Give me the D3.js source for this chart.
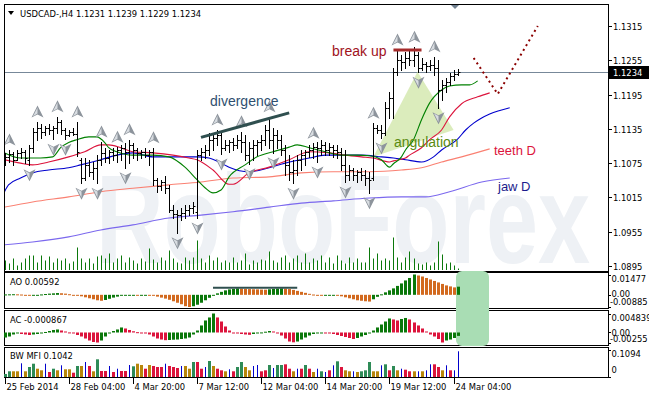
<!DOCTYPE html>
<html><head><meta charset="utf-8">
<script src="https://cdn.jsdelivr.net/npm/d3@7"></script>
<style>html,body{margin:0;padding:0;background:#fff;}svg{display:block;}</style>
</head><body>
<svg id="c" width="649" height="397"></svg>
<script>
// ---------- DATA ----------
const open=[1.1081,1.1086,1.1091,1.1081,1.1093,1.1095,1.1081,1.1102,1.1130,1.1137,
1.1130,1.1137,1.1133,1.1137,1.1147,1.1133,1.1124,1.1130,1.1126,1.1081,
1.1049,1.1072,1.1060,1.1067,1.1081,1.1093,1.1084,1.1095,1.1089,1.1098,
1.1102,1.1095,1.1107,1.1098,1.1093,1.1095,1.1089,1.1095,1.1046,1.1035,
1.1042,1.1032,1.0993,1.0986,1.0984,1.0988,1.0993,1.0997,1.0990,1.1089,
1.1095,1.1098,1.1116,1.1119,1.1124,1.1102,1.1107,1.1112,1.1107,1.1116,
1.1112,1.1089,1.1102,1.1107,1.1112,1.1116,1.1133,1.1116,1.1124,1.1116,
1.1098,1.1072,1.1060,1.1063,1.1081,1.1089,1.1095,1.1098,1.1103,1.1102,
1.1107,1.1098,1.1103,1.1098,1.1095,1.1072,1.1054,1.1063,1.1054,1.1060,
1.1054,1.1049,1.1049,1.1137,1.1133,1.1128,1.1172,1.1189,1.1234,1.1256,
1.1252,1.1259,1.1256,1.1264,1.1242,1.1249,1.1245,1.1247,1.1242,1.1203,
1.1212,1.1217,1.1228,1.1231];
const high=[1.1093,1.1098,1.1095,1.1098,1.1102,1.1098,1.1107,1.1137,1.1147,1.1144,
1.1140,1.1144,1.1140,1.1156,1.1151,1.1137,1.1133,1.1137,1.1147,1.1084,
1.1084,1.1081,1.1077,1.1089,1.1112,1.1102,1.1098,1.1102,1.1103,1.1107,
1.1110,1.1116,1.1110,1.1102,1.1098,1.1102,1.1098,1.1102,1.1049,1.1046,
1.1053,1.1037,1.1002,1.0993,1.0997,1.1002,1.1002,1.1007,1.1098,1.1102,
1.1107,1.1128,1.1124,1.1133,1.1128,1.1116,1.1116,1.1119,1.1124,1.1130,
1.1124,1.1112,1.1116,1.1116,1.1124,1.1142,1.1156,1.1137,1.1133,1.1124,
1.1107,1.1089,1.1081,1.1089,1.1098,1.1098,1.1107,1.1110,1.1112,1.1116,
1.1112,1.1110,1.1107,1.1107,1.1102,1.1098,1.1072,1.1067,1.1063,1.1067,
1.1063,1.1060,1.1145,1.1142,1.1142,1.1182,1.1200,1.1242,1.1273,1.1264,
1.1270,1.1273,1.1278,1.1270,1.1259,1.1252,1.1256,1.1261,1.1256,1.1221,
1.1224,1.1233,1.1238,1.1239];
const low=[1.1072,1.1077,1.1072,1.1081,1.1084,1.1075,1.1072,1.1095,1.1116,1.1119,
1.1124,1.1126,1.1117,1.1128,1.1126,1.1117,1.1123,1.1124,1.1088,1.1040,
1.1046,1.1053,1.1047,1.1040,1.1072,1.1077,1.1075,1.1081,1.1077,1.1081,
1.1067,1.1075,1.1084,1.1081,1.1084,1.1086,1.1072,1.1037,1.1025,1.1028,
1.1023,1.0990,1.0979,1.0953,1.0976,1.0979,1.0984,1.0988,1.0979,1.1081,
1.1084,1.1089,1.1098,1.1107,1.1091,1.1098,1.1095,1.1098,1.1102,1.1095,
1.1081,1.1074,1.1081,1.1089,1.1098,1.1107,1.1102,1.1093,1.1102,1.1089,
1.1054,1.1046,1.1040,1.1054,1.1063,1.1072,1.1086,1.1084,1.1077,1.1089,
1.1089,1.1089,1.1086,1.1084,1.1063,1.1042,1.1046,1.1046,1.1042,1.1046,
1.1037,1.1023,1.1046,1.1128,1.1119,1.1124,1.1154,1.1154,1.1229,1.1238,
1.1242,1.1247,1.1245,1.1234,1.1238,1.1234,1.1238,1.1229,1.1172,1.1186,
1.1200,1.1212,1.1221,1.1229];
const close=[1.1086,1.1091,1.1081,1.1093,1.1095,1.1084,1.1102,1.1130,1.1137,1.1130,
1.1137,1.1133,1.1137,1.1147,1.1133,1.1124,1.1130,1.1126,1.1095,1.1049,
1.1072,1.1060,1.1067,1.1081,1.1093,1.1084,1.1095,1.1089,1.1098,1.1102,
1.1095,1.1107,1.1098,1.1093,1.1095,1.1089,1.1095,1.1046,1.1035,1.1042,
1.1032,1.0993,1.0986,1.0984,1.0988,1.0993,1.0997,1.1000,1.1089,1.1095,
1.1098,1.1116,1.1119,1.1124,1.1102,1.1107,1.1112,1.1107,1.1116,1.1112,
1.1089,1.1102,1.1107,1.1112,1.1116,1.1133,1.1116,1.1124,1.1116,1.1098,
1.1072,1.1060,1.1063,1.1081,1.1089,1.1095,1.1098,1.1103,1.1102,1.1107,
1.1098,1.1103,1.1098,1.1095,1.1072,1.1054,1.1063,1.1054,1.1060,1.1054,
1.1049,1.1046,1.1137,1.1133,1.1128,1.1172,1.1189,1.1234,1.1256,1.1252,
1.1259,1.1256,1.1264,1.1242,1.1249,1.1245,1.1247,1.1242,1.1203,1.1212,
1.1217,1.1228,1.1231,1.1234];
const volume=[2000,1400,2400,1000,1600,2400,3000,3000,1600,3000,
2000,2800,1600,2400,2000,2400,1400,1800,4600,2400,
1600,2400,1400,2800,3000,2400,3400,1600,2400,3000,
1600,2600,2000,1400,2400,1800,4400,2200,1600,2600,
2000,4000,2400,1600,1400,2600,2000,2600,6000,2400,
1600,3000,2000,2600,1600,2000,1600,2600,1600,2000,
3400,1200,2000,1600,2200,2000,3800,2000,1600,2600,
3000,1600,2400,3000,1600,3400,1600,2400,2000,3000,
1600,2600,1400,3000,2000,1400,2600,1600,2400,1600,
1600,4600,2400,3400,2000,2400,2000,6600,2600,1600,
2600,3800,2400,1400,1200,1600,1000,1600,5800,3200,
1400,1600,1000,400];
const ao=[0.00029,0.00036,0.00043,0.00036,0.00022,-0.00022,-0.00036,-0.00029,-0.00014,0.00029,
0.00058,0.00086,0.00108,0.0013,0.00115,0.00086,0.00043,-0.00022,-0.00058,-0.00108,
-0.0018,-0.00252,-0.00324,-0.00396,-0.00432,-0.00374,-0.00288,-0.00202,-0.0013,-0.00072,
-0.00043,-0.00022,-0.00014,-0.00036,-0.00029,-0.00014,-0.00036,-0.00072,-0.0013,-0.00202,
-0.00274,-0.0036,-0.00468,-0.00576,-0.00684,-0.00828,-0.00885,-0.00828,-0.0072,-0.00576,
-0.00396,-0.00216,-0.00072,0.00108,0.00216,0.00324,0.00396,0.00432,0.00468,0.00446,
0.00432,0.00418,0.00403,0.00396,0.00382,0.00374,0.00403,0.00432,0.00454,0.00468,
0.00446,0.00418,0.0036,0.00288,0.00216,0.00144,0.00072,0.00022,-0.00036,-0.00072,
-0.00065,-0.00058,-0.00043,-0.00058,-0.00108,-0.0018,-0.00252,-0.00324,-0.00396,-0.00432,
-0.00468,-0.0049,-0.00324,-0.00144,0.00036,0.0018,0.00324,0.00468,0.00648,0.00828,
0.01044,0.01224,0.01477,0.01404,0.01332,0.01224,0.01116,0.01008,0.009,0.00792,
0.00684,0.00612,0.0054,0.00592];
const ac=[-0.00128,-0.00102,-0.00051,-0.000255,-0.00038,-0.00051,-0.00064,-0.00051,-0.00038,-0.000255,
0.00013,0.00038,0.00064,0.00077,0.00051,0.000255,0.00002,-0.000255,-0.00064,-0.00102,
-0.00153,-0.00204,-0.00242,-0.00255,-0.00204,-0.00102,-0.000255,0.00038,0.00077,0.00128,
0.00102,0.00064,0.00031,0.00008,-0.00013,-0.000255,-0.00051,-0.00102,-0.00153,-0.00179,
-0.00196,-0.00191,-0.00184,-0.00179,-0.00166,-0.00153,-0.00128,-0.00051,0.00051,0.00179,
0.00306,0.00383,0.004839,0.00383,0.0028,0.00153,0.00051,-0.00013,-0.000255,-0.00038,
-0.00051,-0.00059,-0.00038,-0.0002,0.00002,0.0002,0.00038,0.000255,-0.000255,-0.00077,
-0.00153,-0.0023,-0.0025,-0.0023,-0.00179,-0.00128,-0.00077,-0.00038,-0.00013,-0.00008,
-0.00015,-0.000255,-0.00038,-0.00064,-0.00089,-0.00115,-0.0014,-0.00166,-0.0014,-0.00102,
-0.00064,-0.00013,0.00051,0.00128,0.00204,0.0028,0.00357,0.00332,0.00306,0.00344,
0.0037,0.00332,0.00255,0.00179,0.00102,0.000255,-0.00051,-0.00102,-0.00166,-0.00255,
-0.00204,-0.00179,-0.0014,-0.000867];
const mfi=[0.0122,0.0231,0.0231,0.0231,0.0555,0.0231,0.0405,0.0539,0.0336,0.0271,
0.0539,0.0203,0.0336,0.0271,0.0474,0.0312,0.0312,0.0174,0.0446,0.0446,
0.0608,0.0446,0.0231,0.0717,0.0243,0.0243,0.0446,0.0203,0.0336,0.0243,
0.0243,0.0486,0.0433,0.0539,0.0486,0.0336,0.0486,0.0446,0.0405,0.0405,
0.0539,0.0446,0.0405,0.0365,0.0446,0.0446,0.0336,0.0608,0.0608,0.0336,
0.0405,0.0648,0.0446,0.0336,0.0271,0.0231,0.0312,0.0231,0.0405,0.0608,
0.0405,0.0271,0.0446,0.0486,0.0231,0.0271,0.0486,0.0365,0.0486,0.0486,
0.0514,0.0336,0.0231,0.0336,0.0336,0.0486,0.0336,0.0203,0.0336,0.0231,
0.0203,0.0271,0.0474,0.0636,0.0405,0.0271,0.0231,0.0231,0.0203,0.0231,
0.0271,0.0608,0.0231,0.0231,0.0474,0.0514,0.0271,0.0446,0.0271,0.0336,
0.0296,0.0231,0.0231,0.0231,0.0231,0.0271,0.0514,0.0514,0.0405,0.0271,
0.0474,0.0271,0.0271,0.1042];
// G = green, B = brown (fade), S = pink (squat), F = blue (fake)
const mfiType=("GGBBFBGGBB"+"FSGBFBBSGB"+"FSBGSSFSFS"+"SFGBBSBSSS"+"FSSSFBBGSS"+
"FGBSSBFSGG"+"BBFFSSGFGG"+"SSBFSGSBFG"+"FSFGSBBFBG"+"GGBBFGSGBF"+"SSBFBFFSSB"+"FSFF").split("");
// Alligator lines [bar index, price] (shifted forward)
const lips=[[0,1.1093],[4,1.1084],[9,1.1084],[12,1.1086],[14,1.1102],[16,1.1111],[18,1.1116],[21,1.1121],[23,1.1121],[25,1.1111],[26,1.1102],[28,1.1095],[32,1.1089],[37,1.1089],[41,1.1086],[45,1.1068],[48,1.1046],[50,1.1032],[52,1.1023],[54,1.1028],[56,1.1051],[60,1.1072],[63,1.1086],[67,1.1095],[71,1.1103],[73,1.1107],[76,1.1102],[80,1.1095],[84,1.1089],[88,1.1089],[91,1.1088],[94,1.1081],[96,1.1068],[97,1.1074],[99,1.1086],[100,1.1098],[102,1.1116],[104,1.1151],[106,1.1180],[109,1.1203],[111,1.1210],[114,1.1212],[116,1.1212],[118,1.1219]];
const teeth=[[0,1.1081],[4,1.1075],[7,1.1072],[11,1.1077],[16,1.1086],[20,1.1095],[24,1.1107],[26,1.1107],[29,1.1102],[32,1.1095],[37,1.1093],[42,1.1089],[46,1.1084],[48,1.1081],[52,1.1063],[56,1.1038],[57,1.1038],[61,1.1058],[66,1.1068],[71,1.1081],[76,1.1095],[81,1.1093],[85,1.1089],[89,1.1086],[92,1.1084],[96,1.1077],[97,1.1079],[100,1.1084],[101,1.1089],[104,1.1102],[106,1.1116],[109,1.1133],[111,1.1156],[114,1.1179],[118,1.1191],[121,1.1198]];
const jaw=[[0,1.1025],[1,1.1037],[4,1.1049],[7,1.1058],[11,1.1063],[16,1.1067],[19,1.1072],[24,1.1081],[28,1.1089],[32,1.1093],[37,1.1086],[42,1.1086],[48,1.1086],[51,1.1084],[54,1.1075],[56,1.1068],[61,1.1060],[66,1.1067],[70,1.1075],[76,1.1084],[80,1.1089],[84,1.1089],[89,1.1089],[94,1.1086],[97,1.1084],[100,1.1081],[104,1.1077],[107,1.1086],[109,1.1098],[113,1.1117],[115,1.1133],[117,1.1145],[119,1.1154],[121,1.1161],[126,1.1172]];
const teethD=[[0,1.0998],[7,1.1007],[16,1.1016],[24,1.1025],[32,1.1031],[41,1.1037],[49,1.1042],[57,1.1049],[66,1.1051],[74,1.1058],[82,1.1060],[91,1.1060],[99,1.1063],[104,1.1067],[109,1.1077],[114,1.1086],[121,1.1100]];
const jawD=[[0,1.0932],[7,1.0937],[16,1.0946],[24,1.0958],[32,1.0967],[41,1.0979],[49,1.0984],[57,1.0990],[66,1.0998],[74,1.1005],[82,1.1009],[91,1.1014],[99,1.1016],[105,1.1016],[111,1.1025],[119,1.1042],[126,1.1049]];
const fractalUp=[1,8,13,18,24,28,31,37,53,59,66,77,92,98,102,107];
const fractalDown=[6,12,15,19,23,30,43,48,54,61,67,72,78,85,91,94,103,108];
// axes
const priceTicks=[1.1315,1.1255,1.1195,1.1135,1.1075,1.1015,1.0955,1.0895];
const lastPrice=1.1234;
const timeTickIdx=[0,16,32,48,64,80,96,112];
const timeLabels=["25 Feb 2014","28 Feb 04:00","4 Mar 20:00","7 Mar 12:00","12 Mar 04:00","14 Mar 20:00","19 Mar 12:00","24 Mar 04:00"];
const aoTicks=[0.01477,0,-0.00885], aoTickText=["0.01477","0.00","-0.00885"];
const acTicks=[0.004839,0,-0.00255], acTickText=["0.004839","0.00","-0.00255"];
const mfiTicks=[0.1094,0], mfiTickText=["0.1094","0"];
// annotations [bar index, value]
const divergenceLine=[[49,1.1120],[71,1.1163]];
const breakUpLine=[[97,1.1273],[104,1.1273]];
const angulationTri=[[92,1.1086],[103,1.1235],[112,1.1133]];
const forecastPath=[[117,1.1259],[123,1.1196],[133,1.1315]];
const aoDivLine=[[52,0.00516],[73,0.00516]];

// ---------- DRAW ----------
const svg=d3.select("#c");
const FONT="'DejaVu Sans', sans-serif", AR="'Liberation Sans', Arial, sans-serif";
const X0=4, X1=608;
const x=d3.scaleLinear().domain([0,112]).range([4.5,453.6]);
const y=d3.scaleLinear().domain([1.0895,1.1315]).range([266,26]);
const yv=d3.scaleLinear().domain([0,6600]).range([270.5,237.5]);
const yao=d3.scaleLinear().domain([-0.00885,0.01477]).range([307,274.5]);
const yac=d3.scaleLinear().domain([-0.00255,0.004839]).range([342.5,313.5]);
const ymf=d3.scaleLinear().domain([0,0.1094]).range([377,350]);
const bx=i=>Math.round(x(i))+0.5;
const N=close.length;

svg.append("rect").attr("width",649).attr("height",397).attr("fill","#ffffff");
const defs=svg.append("defs");
defs.append("clipPath").attr("id","cm").append("rect").attr("x",X0+1).attr("y",5).attr("width",X1-X0-1).attr("height",265);

const gm=svg.append("g").attr("clip-path","url(#cm)");
// watermark
gm.append("text").attr("x",96).attr("y",263).attr("font-family",AR).attr("font-size",126).attr("font-weight","bold")
 .attr("textLength",494).attr("lengthAdjust","spacingAndGlyphs").attr("fill","#eef1f5").text("RoboForex");

// volumes
gm.append("g").selectAll("line").data(volume).join("line")
 .attr("x1",(d,i)=>bx(i)).attr("x2",(d,i)=>bx(i)).attr("y1",yv(0)).attr("y2",d=>yv(d))
 .attr("stroke","#0b780b").attr("stroke-width",1);

// price line
gm.append("line").attr("x1",X0).attr("x2",X1).attr("y1",Math.round(y(lastPrice))+0.5).attr("y2",Math.round(y(lastPrice))+0.5)
 .attr("stroke","#778899").attr("stroke-width",1);

// angulation triangle
gm.append("path").attr("d",d3.line().x(d=>x(d[0])).y(d=>y(d[1]))(angulationTri)+"Z").attr("fill","#cfe6a6").attr("opacity",0.75);

const ln=d3.line().x(d=>x(d[0])).y(d=>y(d[1])).curve(d3.curveMonotoneX);
[[jawD,"#7b68ee"],[teethD,"#fa8072"],[jaw,"#0000cd"],[teeth,"#dc143c"],[lips,"#008000"]].forEach(([d,c])=>{
 gm.append("path").attr("d",ln(d)).attr("fill","none").attr("stroke",c).attr("stroke-width",1.1);
});

// bars
const rb=v=>Math.round(y(v))+0.5;
const gb=gm.append("g").attr("stroke","#000").attr("stroke-width",1).attr("fill","none");
d3.range(N).forEach(i=>{
 const cx=bx(i);
 gb.append("path").attr("d",`M${cx},${Math.round(y(high[i]))}V${Math.round(y(low[i]))+1}M${cx-2},${rb(open[i])}H${cx}M${cx},${rb(close[i])}H${cx+2}`);
});

// fractals
function arrow(g,cx,cy,up){
 const s=up?1:-1;
 const a=g.append("g").attr("transform",`translate(${cx},${cy}) scale(1,${s})`);
 a.append("path").attr("d","M0,-6.5L6,5.5L0,2.5L-6,5.5Z").attr("fill","#8d949c");
 a.append("path").attr("d","M0,-4.5L-4.5,4.2L0,1.6Z").attr("fill","#d9dde2");
}
const gf=gm.append("g");
fractalUp.forEach(i=>arrow(gf,bx(i),y(high[i])-10,true));
fractalDown.forEach(i=>arrow(gf,bx(i),y(low[i])+10,false));

// divergence & break up & forecast
gm.append("path").attr("d",d3.line().x(d=>x(d[0])).y(d=>y(d[1]))(divergenceLine)).attr("stroke","#2f4f4f").attr("stroke-width",3);
gm.append("path").attr("d",d3.line().x(d=>x(d[0])).y(d=>y(d[1]))(breakUpLine)).attr("stroke","#a52a2a").attr("stroke-width",3);
gm.append("path").attr("d",d3.line().x(d=>x(d[0])).y(d=>y(d[1]))(forecastPath)).attr("fill","none").attr("stroke","#8b0000").attr("stroke-width",2).attr("stroke-dasharray","2,3.5");

// annotation texts
const tx=(t,xx,yy,c,fs)=>svg.append("text").attr("x",xx).attr("y",yy).attr("font-family",AR).attr("font-size",fs).attr("fill",c).text(t);
tx("divergence",210,106,"#2f4f6f",14);
tx("break up",332,56,"#a0121c",14);
tx("angulation",394,147,"#5a8a10",14);
tx("teeth D",494,155,"#dc143c",13);
tx("jaw D",498,191,"#1c1c8c",13);

// shift marker & title
svg.append("path").attr("d","M450,4L460,4L455,9Z").attr("fill","#708090");
svg.append("path").attr("d","M8,11L14,11L11,15Z").attr("fill","#000");
svg.append("text").attr("x",20).attr("y",16.5).attr("font-family",FONT).attr("font-size",8.4).attr("fill","#000")
 .text("USDCAD-,H4  1.1231 1.1239 1.1229 1.1234");

// panel frames
const fr=svg.append("g").attr("stroke","#000").attr("stroke-width",1).attr("fill","none");
[[4.5,271.5],[272.5,308.5],[310.5,345.5],[347.5,377.5]].forEach(([t,b])=>{
 fr.append("rect").attr("x",X0+0.5).attr("y",t).attr("width",X1-X0).attr("height",b-t);
});

// main axis
const ga=svg.append("g").attr("font-family",FONT).attr("font-size",8.4).attr("fill","#000");
priceTicks.forEach(v=>{
 const yy=Math.round(y(v))+0.5;
 svg.append("line").attr("x1",X1).attr("x2",X1+4).attr("y1",yy).attr("y2",yy).attr("stroke","#000");
 ga.append("text").attr("x",613).attr("y",yy+3.2).text(v.toFixed(4));
});
svg.append("rect").attr("x",609).attr("y",Math.round(y(lastPrice))-6).attr("width",40).attr("height",13).attr("fill","#000");
svg.append("text").attr("x",613).attr("y",Math.round(y(lastPrice))+3.5).attr("font-family",FONT).attr("font-size",8.4).attr("fill","#fff").text(lastPrice.toFixed(4));

// green highlight in oscillators
svg.append("rect").attr("x",456).attr("y",271).attr("width",33).attr("height",75).attr("rx",6).attr("fill","#a9ddb4");

// AO
const gao=svg.append("g");
ao.forEach((v,i)=>{
 const up=i===0||v>ao[i-1];
 const y0=yao(0), y1=yao(v);
 let t=Math.min(y0,y1), h=Math.max(1,Math.abs(y1-y0));
 gao.append("rect").attr("x",Math.round(x(i))-1).attr("y",t).attr("width",3).attr("height",h).attr("fill",up?"#0a780a":"#d2691e");
});
svg.append("path").attr("d",d3.line().x(d=>x(d[0])).y(d=>yao(d[1]))(aoDivLine)).attr("stroke","#2f4f4f").attr("stroke-width",2);
// AC
const gac=svg.append("g");
ac.forEach((v,i)=>{
 const up=i===0||v>ac[i-1];
 const y0=yac(0), y1=yac(v);
 let t=Math.min(y0,y1), h=Math.max(1,Math.abs(y1-y0));
 gac.append("rect").attr("x",Math.round(x(i))-1).attr("y",t).attr("width",3).attr("height",h).attr("fill",up?"#0a780a":"#dc143c");
});
// MFI
const mcol={G:"#2e8b57",B:"#b8860b",S:"#dc143c",F:"#0000cd"};
const gmf=svg.append("g");
mfi.forEach((v,i)=>{
 const w=mfiType[i]==="F"?1:3;
 gmf.append("rect").attr("x",mfiType[i]==="F"?Math.round(x(i)):Math.round(x(i))-1).attr("y",ymf(v)).attr("width",w).attr("height",ymf(0)-ymf(v)).attr("fill",mcol[mfiType[i]]);
});

// sub labels
const sl=(t,xx,yy)=>svg.append("text").attr("x",xx).attr("y",yy).attr("font-family",FONT).attr("font-size",8.4).attr("fill","#000").text(t);
sl("AO "+ao[N-1].toFixed(5),10,285);
sl("AC "+ac[N-1].toFixed(6),10,322.5);
sl("BW MFI "+mfi[N-1].toFixed(4),10,359);
const sy=[281.5,297,305]; aoTickText.forEach((t,k)=>sl(t,t[0]==="-"?610:611.5,sy[k]));
const sy2=[321,335.7,341.7]; acTickText.forEach((t,k)=>sl(t,t[0]==="-"?610:611.5,sy2[k]));
const sy3=[357.3,373]; mfiTickText.forEach((t,k)=>sl(t,611.5,sy3[k]));
[[aoTicks,yao],[acTicks,yac],[mfiTicks,ymf]].forEach(([tk,sc])=>tk.forEach(v=>{
 const yy=Math.round(sc(v))+0.5;
 svg.append("line").attr("x1",X1).attr("x2",X1+3).attr("y1",yy).attr("y2",yy).attr("stroke","#000");
}));

// time axis
timeTickIdx.forEach((i,k)=>{
 const xx=bx(i);
 svg.append("line").attr("x1",xx).attr("x2",xx).attr("y1",378).attr("y2",384).attr("stroke","#000");
 sl(timeLabels[k],xx+1,389.5);
});
</script>
</body></html>
